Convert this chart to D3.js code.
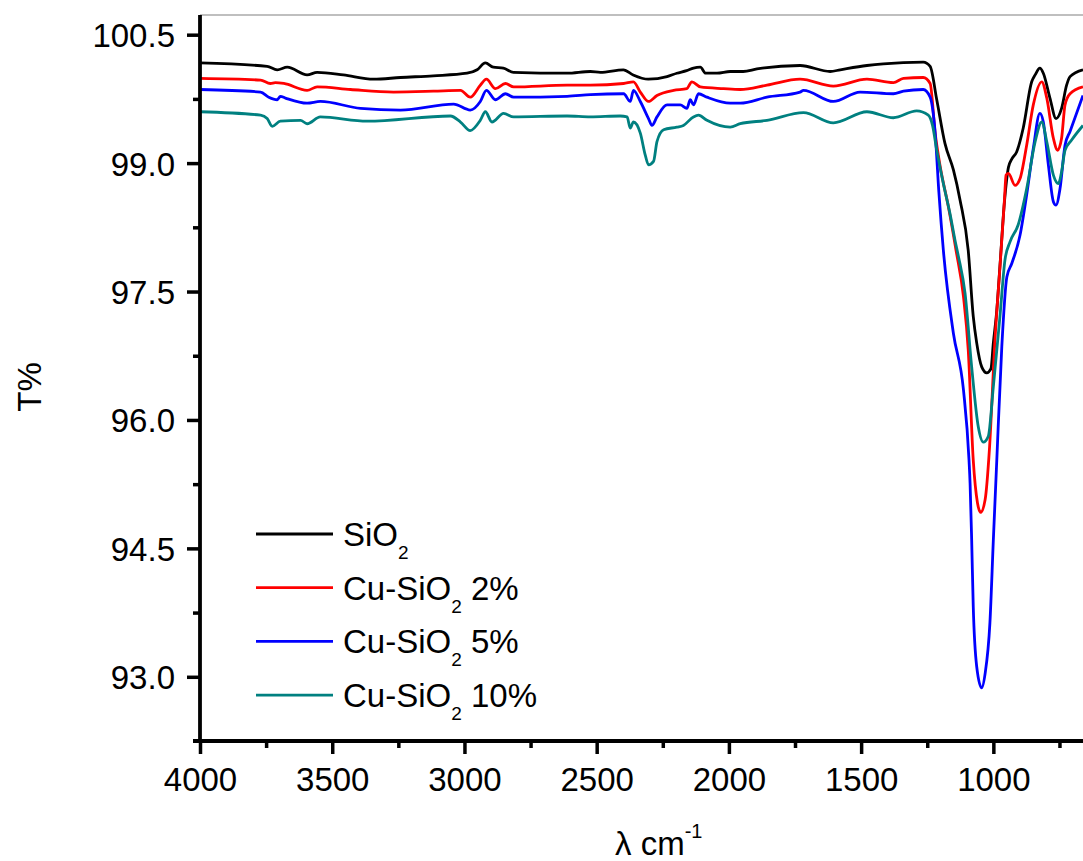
<!DOCTYPE html>
<html>
<head>
<meta charset="utf-8">
<script src="https://cdn.jsdelivr.net/npm/d3@7"></script>
<style>
  html, body { margin: 0; padding: 0; background: #fff; }
  svg { display: block; font-family: "Liberation Sans", Arial, sans-serif; }
</style>
</head>
<body>
<svg id="chart" width="1083" height="861"></svg>
<script>
// FTIR transmittance spectra: [wavenumber (cm-1), T (%)]
const sio2 = [
  [4000,100.17],[3746,100.13],[3708,100.09],[3670,100.12],[3595,100.03],[3557,100.06],[3458,100.03],
  [3344,99.98],[3242,100.00],[3118,100.02],[2990,100.05],[2952,100.09],[2921,100.17],[2891,100.12],
  [2853,100.11],[2815,100.06],[2612,100.05],[2524,100.07],[2486,100.06],[2399,100.09],[2362,100.03],
  [2305,99.98],[2234,100.01],[2197,100.05],[2160,100.08],[2134,100.11],[2108,100.12],[2088,100.05],
  [2045,100.05],[1995,100.07],[1946,100.07],[1894,100.10],[1731,100.14],[1617,100.07],[1579,100.09],
  [1478,100.14],[1416,100.16],[1265,100.18],[1239,100.13],[1214,99.74],[1183,99.23],[1151,98.92],
  [1126,98.57],[1095,97.98],[1076,97.21],[1063,96.90],[1044,96.62],[1025,96.55],[1009,96.60],
  [1000,96.90],[987,97.28],[975,97.80],[958,98.55],[943,98.95],[930,99.05],[912,99.13],[887,99.41],
  [855,99.95],[842,100.03],[824,100.11],[811,100.05],[786,99.76],[763,99.52],[742,99.64],[723,99.91],
  [710,100.01],[661,100.09]
];
const cu2 = [
  [4000,99.99],[3771,99.97],[3734,99.93],[3715,99.94],[3683,99.93],[3595,99.85],[3557,99.89],
  [3431,99.86],[3268,99.83],[3117,99.84],[3015,99.85],[2978,99.77],[2940,99.91],[2917,99.98],
  [2883,99.87],[2845,99.93],[2814,99.89],[2612,99.91],[2524,99.91],[2398,99.93],[2361,99.95],
  [2335,99.83],[2304,99.72],[2272,99.79],[2209,99.85],[2159,99.87],[2140,99.95],[2108,99.89],
  [2020,99.87],[1957,99.86],[1856,99.91],[1731,99.98],[1605,99.90],[1478,99.98],[1378,99.94],
  [1340,99.99],[1265,100.00],[1239,99.93],[1220,99.35],[1201,98.96],[1170,98.49],[1141,97.98],
  [1113,97.44],[1095,96.82],[1076,95.53],[1060,95.03],[1048,94.92],[1031,95.07],[1015,95.65],
  [994,96.93],[975,97.79],[958,98.57],[952,98.86],[943,98.88],[918,98.74],[899,98.82],[874,99.21],
  [849,99.68],[817,99.95],[798,99.76],[773,99.29],[757,99.15],[742,99.29],[729,99.68],[710,99.81],
  [661,99.89]
];
const cu5 = [
  [4000,99.86],[3771,99.83],[3740,99.77],[3708,99.74],[3696,99.78],[3677,99.76],[3595,99.70],
  [3545,99.72],[3393,99.64],[3242,99.62],[3041,99.69],[2978,99.62],[2940,99.72],[2917,99.85],
  [2883,99.74],[2845,99.81],[2814,99.77],[2612,99.78],[2524,99.80],[2398,99.81],[2373,99.72],
  [2361,99.85],[2335,99.72],[2304,99.52],[2291,99.44],[2272,99.54],[2234,99.68],[2184,99.68],
  [2159,99.64],[2146,99.74],[2134,99.68],[2115,99.81],[2083,99.77],[1995,99.70],[1957,99.70],
  [1856,99.77],[1731,99.83],[1718,99.85],[1605,99.72],[1504,99.83],[1378,99.81],[1340,99.84],
  [1265,99.86],[1239,99.77],[1220,99.35],[1206,98.66],[1189,97.98],[1151,97.01],
  [1113,96.35],[1092,95.53],[1088,95.26],[1082,94.60],[1076,93.82],[1063,93.12],[1044,92.87],
  [1031,93.04],[1013,93.63],[1000,94.60],[987,95.53],[968,96.86],[949,97.67],[930,97.83],
  [899,98.16],[874,98.63],[849,99.17],[824,99.58],[811,99.48],[792,98.98],[773,98.55],[763,98.51],
  [748,98.70],[729,99.21],[710,99.37],[661,99.79]
];
const cu10 = [
  [4000,99.60],[3771,99.56],[3746,99.52],[3727,99.43],[3696,99.49],[3620,99.50],[3595,99.46],
  [3545,99.54],[3368,99.49],[3053,99.55],[3015,99.48],[2978,99.38],[2940,99.50],[2921,99.60],
  [2896,99.48],[2852,99.58],[2814,99.54],[2612,99.55],[2524,99.54],[2411,99.55],[2385,99.54],
  [2373,99.41],[2361,99.48],[2335,99.35],[2316,99.09],[2304,98.98],[2285,99.02],[2272,99.25],
  [2247,99.39],[2197,99.42],[2172,99.44],[2134,99.54],[2115,99.56],[2083,99.50],[1995,99.42],
  [1957,99.46],[1856,99.50],[1718,99.59],[1605,99.47],[1478,99.60],[1378,99.53],[1290,99.61],
  [1246,99.56],[1230,99.44],[1214,99.15],[1189,98.76],[1164,98.41],[1145,98.10],[1132,97.91],
  [1107,97.48],[1082,96.62],[1057,95.92],[1038,95.74],[1019,95.81],[1000,96.39],[975,97.21],
  [956,97.87],[937,98.08],[906,98.28],[874,98.70],[842,99.25],[817,99.48],[798,99.25],[773,98.86],
  [754,98.76],[742,98.90],[729,99.15],[704,99.27],[661,99.44]
];

const seriesNames  = ["SiO2", "Cu-SiO2 2%", "Cu-SiO2 5%", "Cu-SiO2 10%"];
const seriesColors = ["#000000", "#ff0000", "#0000ff", "#008080"];
const seriesData   = [sio2, cu2, cu5, cu10];

const xMajorTicks = [4000, 3500, 3000, 2500, 2000, 1500, 1000];
const xMinorTicks = [3750, 3250, 2750, 2250, 1750, 1250, 750];
const yMajorTicks = [93.0, 94.5, 96.0, 97.5, 99.0, 100.5];
const yMinorTicks = [93.75, 95.25, 96.75, 98.25, 99.75];

const svg = d3.select("#chart");
const plot = { left: 200, right: 1083, top: 15, bottom: 741 };

const x = d3.scaleLinear().domain([4000, 661]).range([plot.left, plot.right]);
const y = d3.scaleLinear().domain([92.25, 100.73]).range([plot.bottom, plot.top]);

svg.append("defs").append("clipPath").attr("id", "plotClip")
  .append("rect")
  .attr("x", plot.left).attr("y", plot.top)
  .attr("width", plot.right - plot.left).attr("height", plot.bottom - plot.top);

// top frame
svg.append("line")
  .attr("x1", plot.left).attr("x2", plot.right)
  .attr("y1", plot.top).attr("y2", plot.top)
  .attr("stroke", "#808080").attr("stroke-width", 1.2);

// spectra
const line = d3.line()
  .x(d => x(d[0]))
  .y(d => y(d[1]))
  .curve(d3.curveMonotoneX);

svg.append("g").attr("clip-path", "url(#plotClip)")
  .selectAll("path")
  .data(seriesData)
  .join("path")
  .attr("d", line)
  .attr("fill", "none")
  .attr("stroke", (d, i) => seriesColors[i])
  .attr("stroke-width", 2.8)
  .attr("stroke-linejoin", "round");

// axes
const tickFont = "33px";

const xAxis = svg.append("g").attr("transform", `translate(0,${plot.bottom})`)
  .call(d3.axisBottom(x).tickValues(xMajorTicks).tickSize(13).tickPadding(14).tickFormat(d3.format("d")));
const xMinor = svg.append("g").attr("transform", `translate(0,${plot.bottom})`)
  .call(d3.axisBottom(x).tickValues(xMinorTicks).tickSize(7).tickFormat(""));

const yAxis = svg.append("g").attr("transform", `translate(${plot.left},0)`)
  .call(d3.axisLeft(y).tickValues(yMajorTicks).tickSize(13).tickPadding(12).tickFormat(d3.format(".1f")));
const yMinor = svg.append("g").attr("transform", `translate(${plot.left},0)`)
  .call(d3.axisLeft(y).tickValues(yMinorTicks).tickSize(7).tickFormat(""));

[xAxis, xMinor, yAxis, yMinor].forEach(g => {
  g.select(".domain").remove();
  g.selectAll(".tick line").attr("stroke", "#000").attr("stroke-width", 3.5);
  g.selectAll(".tick text")
    .attr("fill", "#000")
    .style("font-size", tickFont)
    .style("font-family", '"Liberation Sans", Arial, sans-serif');
});
yAxis.selectAll(".tick text").attr("dy", "0.36em");

// axis lines
svg.append("line")
  .attr("x1", plot.left).attr("x2", plot.left)
  .attr("y1", plot.top).attr("y2", plot.bottom + 2)
  .attr("stroke", "#000").attr("stroke-width", 3.8);
svg.append("line")
  .attr("x1", plot.left - 7).attr("x2", plot.right)
  .attr("y1", plot.bottom).attr("y2", plot.bottom)
  .attr("stroke", "#000").attr("stroke-width", 3.8);

// axis titles
const xt = svg.append("text")
  .attr("x", 615).attr("y", 855)
  .attr("font-size", 33).attr("fill", "#000");
xt.append("tspan").text("λ cm");
xt.append("tspan").attr("dy", -17).attr("font-size", 20).text("-1");

svg.append("text")
  .attr("transform", "translate(41,387) rotate(-90)")
  .attr("text-anchor", "middle")
  .attr("font-size", 33).attr("fill", "#000")
  .text("T%");

// legend: line sample plus label with subscripted "2" in SiO2
const legend = svg.append("g");
const legendY0 = 534, legendStep = 53.7;
seriesNames.forEach((name, i) => {
  const ly = legendY0 + i * legendStep;
  legend.append("line")
    .attr("x1", 256).attr("x2", 333)
    .attr("y1", ly).attr("y2", ly)
    .attr("stroke", seriesColors[i]).attr("stroke-width", 2.8);
  const t = legend.append("text")
    .attr("x", 343).attr("y", ly + 12)
    .attr("font-size", 33).attr("fill", "#000");
  const idx = name.indexOf("O2");
  t.append("tspan").text(name.slice(0, idx + 1));
  t.append("tspan").attr("dy", 13).attr("font-size", 19).text("2");
  const rest = name.slice(idx + 2);
  if (rest) t.append("tspan").attr("dy", -13).text(rest);
});
</script>
</body>
</html>
